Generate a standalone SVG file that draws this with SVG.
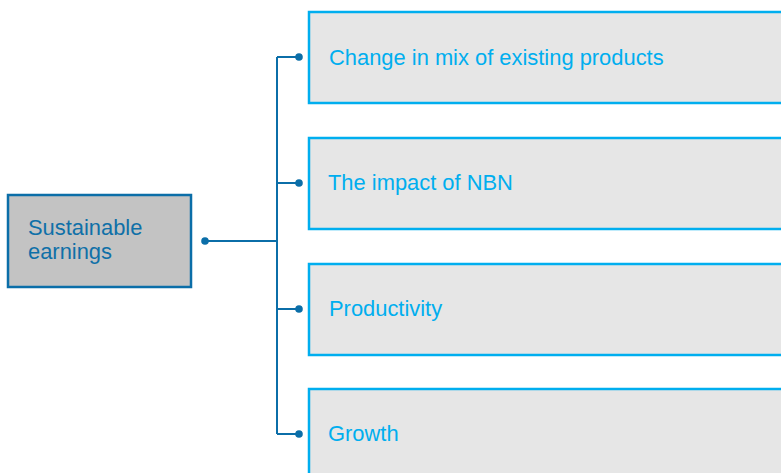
<svg xmlns="http://www.w3.org/2000/svg" width="781" height="473" viewBox="0 0 781 473">
  <style>
    .root rect { fill: #c3c3c3; stroke: #0b6ea8; stroke-width: 2.5; }
    .root text { fill: #0f70a8; }
    .item rect { fill: #e6e6e6; stroke: #00aeef; stroke-width: 2.5; }
    .item text { fill: #00aeef; }
    text { font-family: "Liberation Sans", Arial, sans-serif; font-size: 21.9px; }
    .wire { fill: none; stroke: #0b6ea8; stroke-width: 2; }
    .dot { fill: #0b6ea8; }
  </style>
  <rect width="781" height="473" fill="#ffffff"/>

  <g id="connectors">
    <path class="wire" d="M205 241 H277"/>
    <path class="wire" d="M277 57 V434"/>
    <path class="wire" d="M277 57 H299"/>
    <path class="wire" d="M277 183 H299"/>
    <path class="wire" d="M277 309 H299"/>
    <path class="wire" d="M277 434 H299"/>
    <circle class="dot" cx="205" cy="241" r="3.8"/>
    <circle class="dot" cx="299" cy="57" r="3.8"/>
    <circle class="dot" cx="299" cy="183" r="3.8"/>
    <circle class="dot" cx="299" cy="309" r="3.8"/>
    <circle class="dot" cx="299" cy="434" r="3.8"/>
  </g>

  <g id="sustainable-earnings" class="root">
    <rect x="8" y="195" width="183" height="92"/>
    <text x="28" y="235">Sustainable</text>
    <text x="28" y="259">earnings</text>
  </g>

  <g id="change-in-mix" class="item">
    <rect x="309" y="12" width="490" height="91"/>
    <text x="329" y="65">Change in mix of existing products</text>
  </g>

  <g id="impact-of-nbn" class="item">
    <rect x="309" y="138" width="490" height="91"/>
    <text x="328" y="190">The impact of NBN</text>
  </g>

  <g id="productivity" class="item">
    <rect x="309" y="264" width="490" height="91"/>
    <text x="329" y="316">Productivity</text>
  </g>

  <g id="growth" class="item">
    <rect x="309" y="389" width="490" height="100"/>
    <text x="328" y="441">Growth</text>
  </g>
</svg>
